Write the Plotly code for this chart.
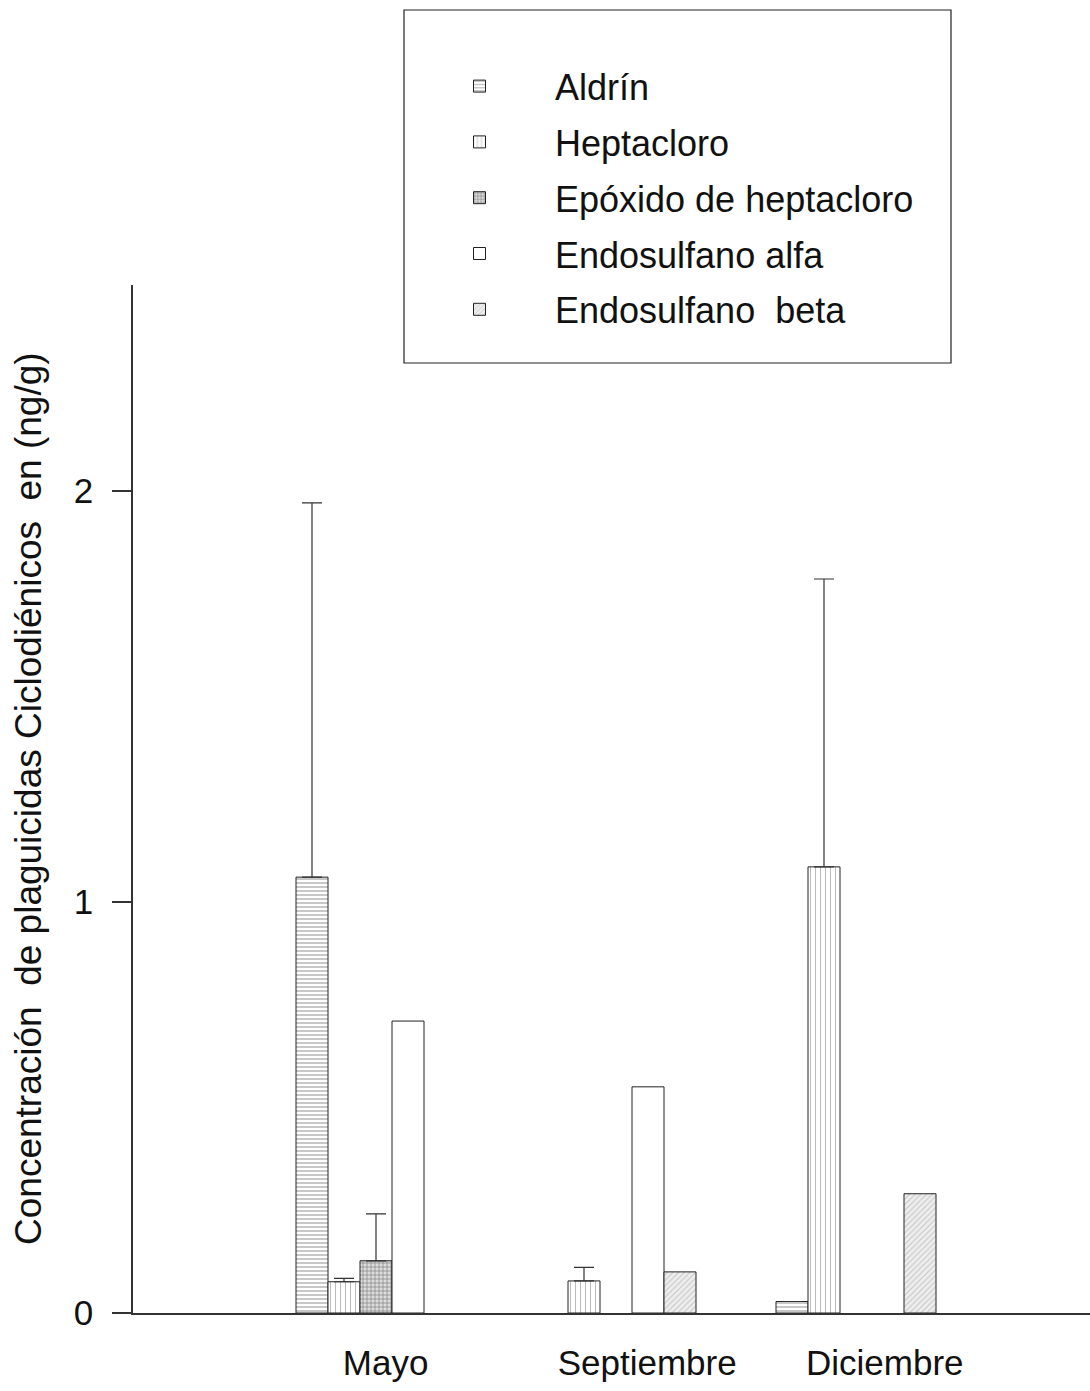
import plotly.graph_objects as go

# ---- data ----
months = ["Mayo", "Septiembre", "Diciembre"]
series_names = ["Aldrín", "Heptacloro", "Epóxido de heptacloro",
                "Endosulfano alfa", "Endosulfano  beta"]
aldrin = [1.06, None, 0.028]
heptacloro = [0.076, 0.078, 1.085]
epoxido = [0.127, None, None]
endo_alfa = [0.71, 0.55, None]
endo_beta = [None, 0.10, 0.29]
aldrin_err = [0.91, 0, 0]
heptacloro_err = [0.008, 0.033, 0.70]
epoxido_err = [0.114, 0, 0]
endo_alfa_err = None
endo_beta_err = None
y_ticks = [0, 1, 2]
y_title = "Concentración  de plaguicidas Ciclodiénicos  en (ng/g)"

values = [aldrin, heptacloro, epoxido, endo_alfa, endo_beta]
errors = [aldrin_err, heptacloro_err, epoxido_err, endo_alfa_err, endo_beta_err]

# ---- styles ----
patterns = [
    dict(shape="-", fgcolor="#444444", bgcolor="white", size=4, solidity=0.3),
    dict(shape="|", fgcolor="#777777", bgcolor="white", size=5, solidity=0.2),
    dict(shape="+", fgcolor="#333333", bgcolor="#dddddd", size=4, solidity=0.35),
    dict(shape="", fgcolor="white", bgcolor="white"),
    dict(shape="/", fgcolor="#999999", bgcolor="#eeeeee", size=4, solidity=0.25),
]
label_shift = [0.04, 0.13, 0.12]  # tick label offsets (category units)

# plot-area geometry in pixels (for decoration placement)
W, H = 1090, 1391
L, R, T, B = 133, 0, 285, 78
pw, ph = W - L - R, H - T - B

x_idx = list(range(len(months)))
fig = go.Figure()
for name, vals, errs, pat in zip(series_names, values, errors, patterns):
    if errs is not None:
        err = dict(type="data", symmetric=False, array=errs,
                   arrayminus=[0] * len(errs),
                   color="#333333", thickness=1.2, width=10)
    else:
        err = dict(visible=False)
    fig.add_trace(go.Bar(
        x=x_idx, y=vals, name=name, legendgroup=name,
        marker=dict(color="white", pattern=pat,
                    line=dict(color="#222222", width=1)),
        error_y=err,
    ))

font = "Liberation Sans, Arial, sans-serif"
fig.update_layout(
    width=W, height=H,
    margin=dict(l=L, r=R, t=T, b=B, autoexpand=False),
    paper_bgcolor="white", plot_bgcolor="white",
    barmode="group", bargap=0.3333, bargroupgap=0,
    font=dict(family=font, size=35, color="#111111"),
    showlegend=True,
    legend=dict(
        xref="container", yref="container",
        x=404 / W, y=1 - 12 / H, xanchor="left", yanchor="top",
        borderwidth=0, bgcolor="rgba(0,0,0,0)",
        font=dict(size=36), tracegroupgap=6, itemwidth=141,
        title=dict(text=" ", font=dict(size=34)),
    ),
    xaxis=dict(
        range=[-1.0125, 2.975], showgrid=False, zeroline=False,
        showline=True, linecolor="#333333", linewidth=1.5,
        tickvals=[i + s for i, s in zip(x_idx, label_shift)],
        ticktext=months, ticks="", ticklabelstandoff=18,
        tickfont=dict(size=35),
    ),
    yaxis=dict(
        range=[0, 2.5], showgrid=False, zeroline=False,
        showline=True, linecolor="#333333", linewidth=1.5,
        tickvals=y_ticks, ticks="outside", ticklen=19, tickwidth=1.5,
        tickcolor="#333333", ticklabelstandoff=12, tickfont=dict(size=35),
    ),
    shapes=[dict(
        type="rect", xref="paper", yref="paper",
        x0=(404 - L) / pw, x1=(951 - L) / pw,
        y0=(H - B - 363) / ph, y1=(H - B - 10) / ph,
        line=dict(color="#222222", width=1.2), fillcolor="white", layer="below",
    )],
    annotations=[dict(
        text=y_title, textangle=-90, xref="paper", yref="paper",
        x=(28 - L) / pw, y=0.5, xanchor="center", yanchor="middle",
        showarrow=False, font=dict(size=37),
    )],
)

fig.write_html("out.html")
